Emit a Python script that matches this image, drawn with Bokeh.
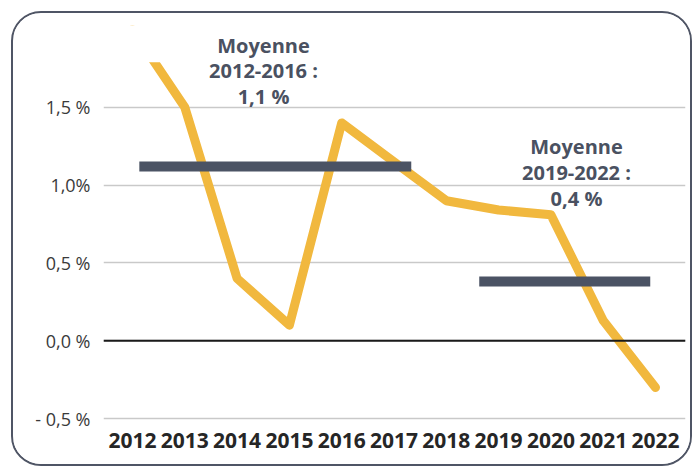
from bokeh.plotting import figure
from bokeh.models import FixedTicker, Span, Label
from bokeh.embed import file_html
from bokeh.resources import INLINE

# ---- data ----
years = [2012, 2013, 2014, 2015, 2016, 2017, 2018, 2019, 2020, 2021, 2022]
values = [2.0, 1.5, 0.4, 0.1, 1.4, 1.15, 0.9, 0.84, 0.81, 0.13, -0.3]
avg_labels = [["Moyenne", "2012-2016 :", "1,1 %"], ["Moyenne", "2019-2022 :", "0,4 %"]]
avg_values = [1.12, 0.38]
avg_start = [2012.13, 2018.63]
avg_end = [2017.33, 2021.9]
y_ticks = [-0.5, 0.0, 0.5, 1.0, 1.5]
y_tick_labels = ["- 0,5 %", "0,0 %", "0,5 %", "1,0%", "1,5 %"]
visible_top = 1.79  # the chart cuts the curve at this level

YELLOW = "#f1b83e"
SLATE = "#4b5364"
FONT = "Open Sans"

X0, X1 = 2011.445, 2022.574
Y0, Y1 = -0.519, 2.026

p = figure(width=681, height=455, output_backend="svg", toolbar_location=None,
           x_range=(X0, X1), y_range=(Y0, Y1),
           min_border_left=90, min_border_right=9, min_border_top=12,
           min_border_bottom=47)
p.styles = {"border": "2px solid #4f5565", "border-radius": "30px",
            "overflow": "hidden", "margin-left": "11px", "margin-top": "11px"}
p.outline_line_color = None
p.background_fill_color = "white"
p.border_fill_color = "white"

p.xgrid.grid_line_color = None
p.ygrid.grid_line_color = "#c9c9c9"
p.ygrid.grid_line_width = 1.3

p.xaxis.ticker = FixedTicker(ticks=years)
p.xaxis.major_label_overrides = {y: str(y) for y in years}
p.yaxis.ticker = FixedTicker(ticks=y_ticks)
p.yaxis.major_label_overrides = {t: l for t, l in zip(y_ticks, y_tick_labels)}
for ax in (p.xaxis, p.yaxis):
    ax.axis_line_color = None
    ax.major_tick_line_color = None
    ax.minor_tick_line_color = None
    ax.major_label_text_font = FONT
p.xaxis.major_label_text_font_size = "21px"
p.xaxis.major_label_text_font_style = "bold"
p.xaxis.major_label_text_color = "#262626"
p.xaxis.major_label_standoff = 5
p.yaxis.major_label_text_font_size = "18px"
p.yaxis.major_label_text_color = "#3a3a3a"
p.yaxis.major_label_standoff = 7

p.add_layout(Span(location=0, dimension="width", line_color="#1a1a1a", line_width=2))

p.line(years, values, line_color=YELLOW, line_width=9, line_join="round", line_cap="round")

# white mask above the visible top of the plot area
p.quad(left=[X0], right=[X1], bottom=[visible_top], top=[Y1 + 1],
       fill_color="white", line_color=None)

p.segment(x0=avg_start, y0=avg_values, x1=avg_end, y1=avg_values,
          line_color=SLATE, line_width=10, line_cap="butt")

label_x = [2014.505, 2020.49]
label_y = [[1.897, 1.736, 1.569], [1.248, 1.080, 0.913]]
for lines, lx, lys in zip(avg_labels, label_x, label_y):
    for txt, ly in zip(lines, lys):
        p.add_layout(Label(x=lx, y=ly, text=txt, text_align="center",
                           text_baseline="middle", text_font=FONT,
                           text_font_style="bold", text_font_size="20px",
                           text_color="#4a5161"))

open("out.html", "w").write(file_html(p, INLINE))
